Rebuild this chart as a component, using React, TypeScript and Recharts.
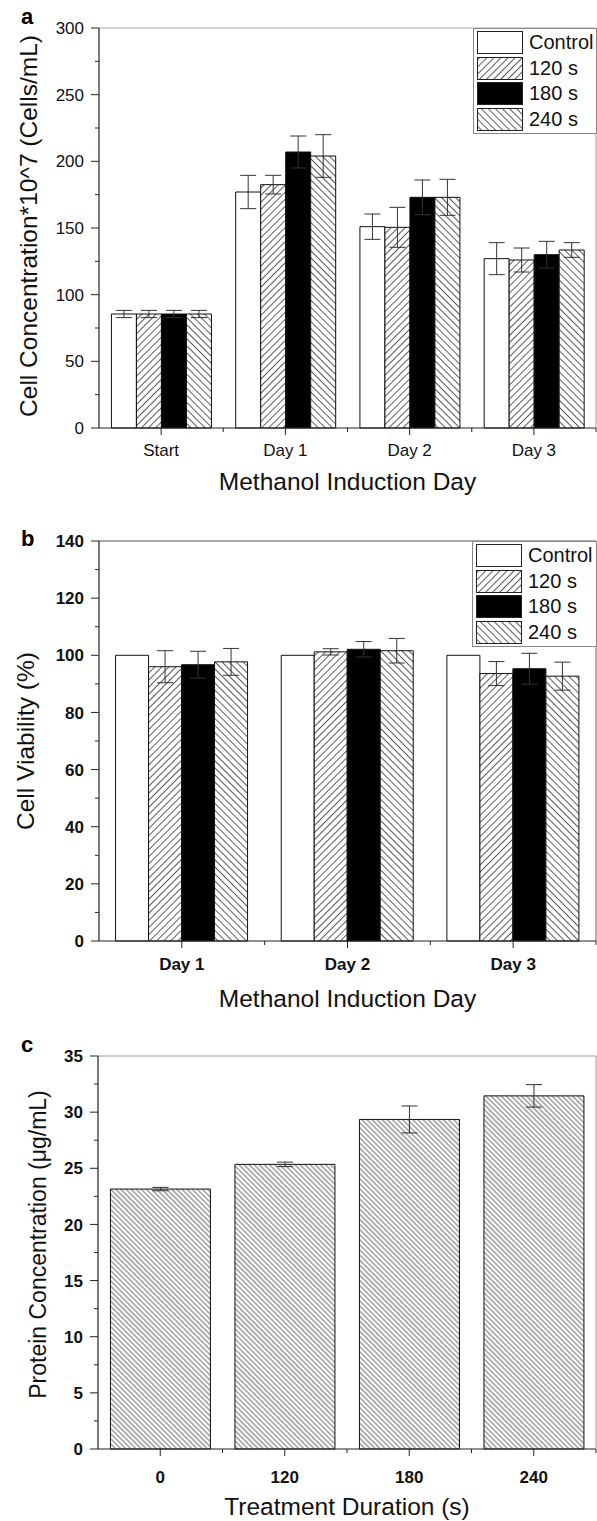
import React from 'react';
import { BarChart, Bar, XAxis, YAxis, ErrorBar, Legend, ReferenceLine } from 'recharts';

const FONT = '"Liberation Sans", Arial, Helvetica, sans-serif';

// panel a - cell concentration
const daysA = ['Start', 'Day 1', 'Day 2', 'Day 3'];
const controlA = [85.5, 177, 151, 127];
const controlErrA = [2.7, 12.5, 9.5, 12];
const s120A = [85.5, 182.5, 150.5, 126];
const s120ErrA = [2.7, 7, 15, 9];
const s180A = [85.5, 207, 173, 130];
const s180ErrA = [2.7, 12, 13, 10];
const s240A = [85.5, 204, 173, 133.5];
const s240ErrA = [2.7, 16, 13.5, 5.5];
const ticksA = [0, 25, 50, 75, 100, 125, 150, 175, 200, 225, 250, 275, 300];

// panel b - cell viability
const daysB = ['Day 1', 'Day 2', 'Day 3'];
const controlB = [100, 100, 100];
const s120B = [96, 101.2, 93.6];
const s120ErrB = [5.6, 1.1, 4.2];
const s180B = [96.7, 102.1, 95.3];
const s180ErrB = [4.7, 2.7, 5.4];
const s240B = [97.7, 101.6, 92.7];
const s240ErrB = [4.7, 4.3, 4.9];
const ticksB = [0, 10, 20, 30, 40, 50, 60, 70, 80, 90, 100, 110, 120, 130, 140];

// panel c - protein
const durations = ['0', '120', '180', '240'];
const protein = [23.15, 25.35, 29.35, 31.45];
const proteinErr = [0.15, 0.2, 1.2, 1.0];
const ticksC = [0, 2.5, 5, 7.5, 10, 12.5, 15, 17.5, 20, 22.5, 25, 27.5, 30, 32.5, 35];

const rowsA = daysA.map((day, i) => ({
  day,
  control: controlA[i], controlErr: controlErrA[i],
  s120: s120A[i], s120Err: s120ErrA[i],
  s180: s180A[i], s180Err: s180ErrA[i],
  s240: s240A[i], s240Err: s240ErrA[i],
}));

const rowsB = daysB.map((day, i) => ({
  day,
  control: controlB[i],
  s120: s120B[i], s120Err: s120ErrB[i],
  s180: s180B[i], s180Err: s180ErrB[i],
  s240: s240B[i], s240Err: s240ErrB[i],
}));

const rowsC = durations.map((d, i) => ({ d, value: protein[i], err: proteinErr[i] }));

const SERIES = [
  { key: 'control', name: 'Control', fill: '#ffffff' },
  { key: 's120', name: '120 s', fill: 'url(#hatchFwd)' },
  { key: 's180', name: '180 s', fill: '#000000' },
  { key: 's240', name: '240 s', fill: 'url(#hatchBack)' },
];

const AXIS = { stroke: '#222', strokeWidth: 1.2 };

function YTick(props: any) {
  const { x, y, payload, step, bold } = props;
  const ratio = payload.value / step;
  const major = Math.abs(ratio - Math.round(ratio)) < 1e-6;
  return (
    <g>
      <line x1={x} x2={x - (major ? 8 : 4)} y1={y} y2={y} stroke="#222" strokeWidth={1} />
      {major && (
        <text x={x - 15} y={y} dy="0.36em" textAnchor="end" fontFamily={FONT} fontSize={17}
          fontWeight={bold ? 'bold' : 'normal'} fill="#111">
          {payload.value}
        </text>
      )}
    </g>
  );
}

function XTick(props: any) {
  const { x, y, payload, baseline, bold, band } = props;
  const half = payload.offset || band / 2;
  return (
    <g>
      <line x1={x} x2={x} y1={y} y2={y + 7} stroke="#222" strokeWidth={1} />
      <line x1={x + half} x2={x + half} y1={y} y2={y + 4} stroke="#222" strokeWidth={1} />
      <text x={x} y={y + baseline} textAnchor="middle" fontFamily={FONT} fontSize={17}
        fontWeight={bold ? 'bold' : 'normal'} fill="#111">
        {payload.value}
      </text>
    </g>
  );
}

const xTitle = (text: string, fromBottom: number) => (props: any) => {
  const { x, y, width, height } = props.viewBox;
  return (
    <text x={x + width / 2} y={y + height - fromBottom} textAnchor="middle" fontFamily={FONT}
      fontSize={24.5} fill="#111">
      {text}
    </text>
  );
};

const yTitle = (text: string, cx: number, size: number, shift = 0) => (props: any) => {
  const { y, height } = props.viewBox;
  const cy = y + height / 2 + shift;
  return (
    <text x={cx} y={cy} dy="0.36em" transform={`rotate(-90 ${cx} ${cy})`} textAnchor="middle"
      fontFamily={FONT} fontSize={size} fill="#111">
      {text}
    </text>
  );
};

const LegendBox = () => (
  <div style={{ border: '1px solid #888', background: '#fff', padding: '1px 0 1px 3px', boxSizing: 'border-box', width: '100%' }}>
    {SERIES.map((s) => (
      <div key={s.key} style={{ display: 'flex', alignItems: 'center', height: 25.5 }}>
        <svg width={46} height={23} style={{ display: 'block' }}>
          <rect x={0.5} y={0.5} width={45} height={22} fill={s.fill} stroke="#222" strokeWidth={1} />
        </svg>
        <span style={{ marginLeft: 6, fontSize: 20, fontFamily: FONT, lineHeight: '23px', color: '#111' }}>{s.name}</span>
      </div>
    ))}
  </div>
);

const panelLabel = (top: number): React.CSSProperties => ({
  position: 'absolute', left: 21, top, fontFamily: FONT, fontWeight: 'bold', fontSize: 22, lineHeight: 1,
});

export default function App() {
  return (
    <div style={{ position: 'relative', width: 597, height: 1521, background: '#fff', fontFamily: FONT, overflow: 'hidden' }}>
      <style>{'body{margin:0}'}</style>
      <svg width={0} height={0} style={{ position: 'absolute' }}>
        <defs>
          <pattern id="hatchFwd" patternUnits="userSpaceOnUse" width={5} height={5} patternTransform="rotate(45)">
            <rect width={5} height={5} fill="#fff" />
            <line x1={2.5} y1={0} x2={2.5} y2={5} stroke="#333" strokeWidth={0.8} />
          </pattern>
          <pattern id="hatchBack" patternUnits="userSpaceOnUse" width={5} height={5} patternTransform="rotate(-45)">
            <rect width={5} height={5} fill="#fff" />
            <line x1={2.5} y1={0} x2={2.5} y2={5} stroke="#333" strokeWidth={0.8} />
          </pattern>
          <pattern id="hatchDense" patternUnits="userSpaceOnUse" width={3.6} height={3.6} patternTransform="rotate(-45)">
            <rect width={3.6} height={3.6} fill="#fff" />
            <line x1={1.8} y1={0} x2={1.8} y2={3.6} stroke="#444" strokeWidth={0.8} />
          </pattern>
        </defs>
      </svg>

      <div style={panelLabel(6)}>a</div>
      <div style={panelLabel(528)}>b</div>
      <div style={panelLabel(1034)}>c</div>

      {/* a */}
      <div style={{ position: 'absolute', left: 0, top: 0 }}>
        <BarChart width={597} height={500} data={rowsA} margin={{ top: 28, right: 0, left: 0, bottom: 0 }}
          barCategoryGap="10%" barGap={0}>
          <XAxis dataKey="day" height={72} tickSize={0} tickMargin={0} tickLine={false} axisLine={AXIS}
            interval={0} tick={<XTick baseline={28} band={124.25} />} label={xTitle('Methanol Induction Day', 10)} />
          <YAxis width={99} domain={[0, 300]} ticks={ticksA} interval={0} tickSize={0} tickMargin={0}
            tickLine={false} axisLine={AXIS} tick={<YTick step={50} />}
            label={yTitle('Cell Concentration*10^7 (Cells/mL)', 28, 24.5, -2)} />
          <YAxis yAxisId="frame" orientation="right" width={1} domain={[0, 300]} tick={false} tickLine={false}
            axisLine={{ stroke: '#999', strokeWidth: 1 }} />
          <ReferenceLine y={300} stroke="#aaa" strokeWidth={1} />
          {SERIES.map((s) => (
            <Bar key={s.key} dataKey={s.key} name={s.name} fill={s.fill} stroke="#111" strokeWidth={1}
              isAnimationActive={false}>
              <ErrorBar dataKey={`${s.key}Err`} width={8} stroke="#333" strokeWidth={1} isAnimationActive={false} />
            </Bar>
          ))}
          <Legend layout="vertical" align="center" verticalAlign="middle" content={() => <LegendBox />}
            wrapperStyle={{ top: 28, left: 473, width: 124 }} />
        </BarChart>
      </div>

      {/* b */}
      <div style={{ position: 'absolute', left: 0, top: 500 }}>
        <BarChart width={597} height={520} data={rowsB} margin={{ top: 41, right: 0, left: 0, bottom: 0 }}
          barCategoryGap="10%" barGap={0}>
          <XAxis dataKey="day" height={79} tickSize={0} tickMargin={0} tickLine={false} axisLine={AXIS}
            interval={0} tick={<XTick baseline={29} band={165.67} bold />} label={xTitle('Methanol Induction Day', 13)} />
          <YAxis width={99} domain={[0, 140]} ticks={ticksB} interval={0} tickSize={0} tickMargin={0}
            tickLine={false} axisLine={AXIS} tick={<YTick step={20} bold />}
            label={yTitle('Cell Viability (%)', 25, 24.5, 0)} />
          <YAxis yAxisId="frame" orientation="right" width={1} domain={[0, 140]} tick={false} tickLine={false}
            axisLine={{ stroke: '#666', strokeWidth: 1 }} />
          <ReferenceLine y={140} stroke="#555" strokeWidth={1} />
          {SERIES.map((s) => (
            <Bar key={s.key} dataKey={s.key} name={s.name} fill={s.fill} stroke="#111" strokeWidth={1}
              isAnimationActive={false}>
              {s.key !== 'control' && (
                <ErrorBar dataKey={`${s.key}Err`} width={8} stroke="#333" strokeWidth={1} isAnimationActive={false} />
              )}
            </Bar>
          ))}
          <Legend layout="vertical" align="center" verticalAlign="middle" content={() => <LegendBox />}
            wrapperStyle={{ top: 41, left: 472, width: 125 }} />
        </BarChart>
      </div>

      {/* c */}
      <div style={{ position: 'absolute', left: 0, top: 1020 }}>
        <BarChart width={597} height={501} data={rowsC} margin={{ top: 36, right: 0, left: 0, bottom: 0 }}
          barCategoryGap="10%">
          <XAxis dataKey="d" height={72} tickSize={0} tickMargin={0} tickLine={false} axisLine={AXIS}
            interval={0} tick={<XTick baseline={34} band={124.5} bold />} label={xTitle('Treatment Duration (s)', 6)} />
          <YAxis width={98} domain={[0, 35]} ticks={ticksC} interval={0} tickSize={0} tickMargin={0}
            tickLine={false} axisLine={AXIS} tick={<YTick step={5} bold />}
            label={yTitle('Protein Concentration (μg/mL)', 38, 23, -8)} />
          <YAxis yAxisId="frame" orientation="right" width={1} domain={[0, 35]} tick={false} tickLine={false}
            axisLine={{ stroke: '#999', strokeWidth: 1 }} />
          <ReferenceLine y={35} stroke="#999" strokeWidth={1} />
          <Bar dataKey="value" fill="url(#hatchDense)" stroke="#111" strokeWidth={1} isAnimationActive={false}>
            <ErrorBar dataKey="err" width={8} stroke="#333" strokeWidth={1} isAnimationActive={false} />
          </Bar>
        </BarChart>
      </div>
    </div>
  );
}
